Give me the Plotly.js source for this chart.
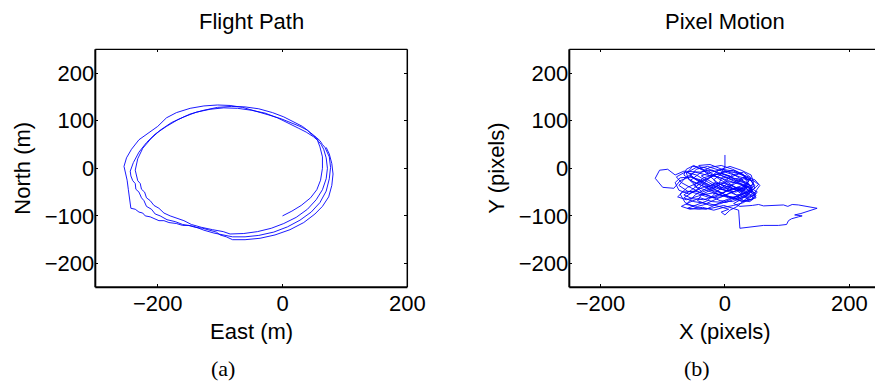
<!DOCTYPE html>
<html>
<head>
<meta charset="utf-8">
<script src="https://cdn.plot.ly/plotly-3.0.1.min.js"></script>
<style>html,body{margin:0;padding:0;background:#fff;}#chart{width:875px;height:381px;}</style>
</head>
<body>
<div id="chart"></div>
<script>
// ---- Flight path (East, North in metres) ----
const flightEast = [0,15,30,45,55,61,64,64,60,56,50,38,26,10,-8,-28,-50,-72,-94,-116,-138,-158,-178,-196,-211,-224,-232,-236,-234,-232,-228,-226,-221,-218,-212,-206,-198,-190,-180,-168,-158,-146,-130,-112,-95,-84,-62,-40,-18,2,22,40,54,64,70,72,70,66,62,58,54,46,40,32,18,2,-16,-38,-60,-82,-104,-126,-148,-168,-186,-204,-218,-230,-239,-244,-243,-240,-236,-235,-230,-226,-222,-218,-210,-204,-196,-185,-172,-160,-142,-126,-110,-96,-80,-60,-38,-14,8,28,46,60,70,75,77,75,71,68,64,60,55,48,40,28,14,-2,-22,-44,-64,-84,-104,-126,-148,-170,-186,-200,-216,-230,-242,-250,-254,-251,-249,-247,-245,-243,-236,-230,-224,-220,-212,-206,-198,-190,-182,-170,-160,-150,-140,-128,-115,-106,-100,-90,-80,-60,-36,-12,12,34,52,64,74,79,81,79,75,70];
const flightNorth = [-100,-90,-78,-62,-45,-25,0,24,45,59,66,76,84,95,106,116,122,126,127,124,118,108,96,80,62,42,20,-4,-16,-26,-32,-44,-50,-62,-68,-78,-84,-94,-100,-106,-110,-118,-124,-129,-133,-138,-137,-133,-126,-116,-103,-86,-66,-45,-22,0,22,40,50,56,64,72,80,88,98,108,117,125,129,130,128,122,114,102,88,72,54,34,12,-6,-16,-26,-32,-44,-50,-62,-68,-80,-86,-96,-100,-108,-112,-118,-122,-130,-136,-140,-144,-144,-141,-134,-123,-109,-92,-72,-48,-22,2,24,36,44,50,58,64,72,80,88,95,104,112,121,128,132,133,131,126,117,106,88,74,60,40,22,4,-10,-25,-45,-62,-84,-86,-92,-94,-100,-102,-106,-110,-110,-114,-116,-120,-120,-124,-126,-130,-134,-140,-144,-150,-150,-147,-140,-129,-114,-96,-80,-60,-36,-12,10,30,44];

// ---- Pixel motion (X, Y in pixels) ----
const pixelX = [0,0,-6,10,26,38,30,14,-4,-20,-36,-50,-62,-66,-50,-30,-12,6,22,38,46,42,26,8,-10,-28,-44,-58,-74,-80,-72,-54,-34,-14,6,24,40,46,30,16,0,-14,-30,-42,-24,-8,10,28,34,20,2,-20,-40,-58,-70,-56,-36,-18,-2,14,30,44,52,56,48,32,16,0,-18,-38,-56,-70,-78,-64,-46,-26,-6,18,34,42,30,12,-2,-20,-42,-62,-76,-68,-48,-28,-8,12,32,44,38,22,6,-14,-34,-50,-36,-16,4,24,40,48,36,18,2,-12,-28,-44,-60,-42,-22,-2,12,22,24,40,56,62,86,99,102,107,118,124,112,122,148,132,118,108,101,94,76,62,54,44,24,14,28,40,30,12,-4,-20,-40,-66,-80,-92,-105,-112,-100,-82,-72,-56,-40,-24,-6,12,26,38,20,4,-14,-32,-48,-60,-52,-34,-16,0,16,32,44,36,18,0,-18,-36,-54,-66,-50,-30,-10,8,24,38,30,14,-2,-18,-8,10,28,42,50,40,24,10,-6,-24,-44,-38,-20,0,16,34,46,54,46,30,14,-2,-20,-38,-22,-4,14,30,38,26,8,-10,-26,-46,-62,-58,-40,-22,-4,14,30,44,
  52,40,22,8,-8,-26,-44,-60,-72,-64,-48,-30,-14,2,18,34,48,44,28,12,-6,-24,-40,-56,-44,-26,-8,10,26,40,50,42,24,6,-12,-30,-48,-64,-74,-60,-42,-24,-6,12,30,46,38,20,2,-16,-34,-52,-66,-52,-34,-16,2,20,36,50,44,28,10,-8,-24,-40,-56,-46,-28,-10,8,24,40,48,34,16,0,-16,-32,-48,-62,-44,-26,-10,6,-6,0,8,20,32,44,38,22,6,-10,-4,14,30,42];
const pixelY = [28,4,-10,-18,-10,-26,-48,-38,-22,-14,-4,6,-2,-14,-30,-40,-54,-62,-58,-46,-30,-14,-4,4,-4,-24,-44,-54,-46,-30,-20,-18,-30,-42,-48,-40,-54,-64,-68,-54,-40,-28,-10,6,8,0,-10,-24,-40,-62,-72,-70,-62,-72,-80,-86,-82,-88,-82,-78,-72,-58,-44,-36,-24,-18,-28,-50,-62,-52,-40,-30,-18,-8,-14,-30,-44,-50,-34,-20,-8,-14,-30,-44,-58,-66,-60,-50,-48,-56,-68,-70,-60,-48,-32,-22,-20,-12,-20,-36,-50,-38,-28,-32,-42,-56,-62,-46,-34,-48,-68,-76,-84,-86,-84,-78,-84,-88,-126,-124,-122,-120,-120,-118,-110,-106,-102,-100,-98,-95,-84,-80,-77,-76,-80,-77,-78,-79,-76,-78,-80,-74,-64,-50,-36,-26,-16,-4,-8,-6,-14,-2,-4,-21,-40,-42,-26,-18,-24,-36,-30,-36,-50,-58,-64,-58,-46,-34,-22,-8,4,2,-6,-14,-22,-30,-38,-52,-56,-46,-36,-40,-52,-62,-70,-74,-62,-52,-44,-28,-14,-4,-8,-24,-40,-44,-36,-50,-62,-66,-56,-64,-74,-78,-68,-56,-52,-58,-64,-56,-44,-34,-26,-22,-34,-42,-30,-16,-8,-2,-6,-16,-34,-44,-36,-22,-6,2,-10,-24,-34,-46,-52,-42,-48,-60,
  -50,-40,-30,-16,-10,-20,-30,-40,-54,-72,-82,-86,-76,-66,-60,-52,-42,-28,-12,-2,6,2,-10,-26,-40,-48,-56,-60,-68,-70,-58,-44,-34,-26,-18,-14,-8,-20,-36,-48,-54,-62,-60,-50,-42,-34,-18,-10,-6,-14,-26,-44,-56,-64,-66,-58,-48,-40,-46,-52,-66,-70,-62,-50,-40,-30,-16,-2,4,-4,-12,-18,-24,-36,-52,-44,-36,-30,-44,-56,-76,-80,-74,-80,-86,-92,-98,-88,-80,-66,-54,-38,-48,-40,-32,-18,-24,-30,-38];

const xTicksA = [-200, 0, 200];
const yTicksA = [-200, -100, 0, 100, 200];
const xTicksB = [-200, 0, 200];
const yTicksB = [-200, -100, 0, 100, 200];

const sans = 'Liberation Sans, Arial, Helvetica, sans-serif';
const serif = 'Liberation Serif, Times New Roman, serif';
const W = 875, H = 381;
const px = v => v / W, py = v => 1 - v / H;

const lineStyle = {color: '#0000ff', width: 0.9};
const traces = [
  {x: flightEast, y: flightNorth, type: 'scatter', mode: 'lines', line: lineStyle, xaxis: 'x', yaxis: 'y', hoverinfo: 'none'},
  {x: pixelX, y: pixelY, type: 'scatter', mode: 'lines', line: lineStyle, xaxis: 'x2', yaxis: 'y2', hoverinfo: 'none'}
];

const axBase = {
  ticks: 'inside', ticklen: 3, tickwidth: 1, tickcolor: '#000',
  showline: false, showgrid: false, zeroline: false,
  tickfont: {family: sans, size: 22, color: '#000'}, tickmode: 'array', fixedrange: true
};

const boxLines = [];
function addBox(xr, yr, withRight) {
  const mk = (x0, y0, x1, y1, w) => ({type: 'line', xref: xr + ' domain', yref: yr + ' domain', x0, y0, x1, y1, line: {color: '#000', width: w}, layer: 'above'});
  boxLines.push(mk(0, 0, 1, 0, 2));
  boxLines.push(mk(0, 0, 0, 1, 2));
  boxLines.push(mk(0, 1, 1, 1, 1.2));
  if (withRight) boxLines.push(mk(1, 0, 1, 1, 1.5));
}
addBox('x', 'y', true);
addBox('x2', 'y2', false);

const ann = (text, x, y, size, fam, rot) => ({text, x: px(x), y: py(y), xref: 'paper', yref: 'paper', showarrow: false, xanchor: 'center', yanchor: 'middle', textangle: rot || 0, font: {family: fam, size, color: '#000'}});

const layout = {
  width: W, height: H, margin: {l: 0, r: 0, t: 0, b: 0},
  paper_bgcolor: '#fff', plot_bgcolor: '#fff', showlegend: false,
  xaxis: Object.assign({}, axBase, {domain: [px(95.3), px(407.3)], range: [-300, 200], tickvals: xTicksA, anchor: 'y', mirror: 'ticks', ticklabelstandoff: 1}),
  yaxis: Object.assign({}, axBase, {domain: [py(287.3), py(49.3)], range: [-250, 250], tickvals: yTicksA, anchor: 'x', mirror: 'ticks'}),
  xaxis2: Object.assign({}, axBase, {domain: [px(569.3), 1], range: [-250, 241], tickvals: xTicksB, anchor: 'y2', mirror: 'ticks', ticklabelstandoff: 1}),
  yaxis2: Object.assign({}, axBase, {domain: [py(287.3), py(49.3)], range: [-250, 250], tickvals: yTicksB, anchor: 'x2', mirror: false}),
  shapes: boxLines,
  annotations: [
    ann('Flight Path', 251, 22, 22, sans),
    ann('East (m)', 251, 331, 22, sans),
    ann('North (m)', 21.7, 168, 22, sans, -90),
    ann('Pixel Motion', 725.3, 22, 22, sans),
    ann('X (pixels)', 725.3, 331, 22, sans),
    ann('Y (pixels)', 495.7, 168, 22, sans, -90),
    ann('(a)', 223, 368, 22, serif),
    ann('(b)', 697, 368, 22, serif)
  ]
};

Plotly.newPlot('chart', traces, layout, {staticPlot: true, displayModeBar: false});
</script>
</body>
</html>
